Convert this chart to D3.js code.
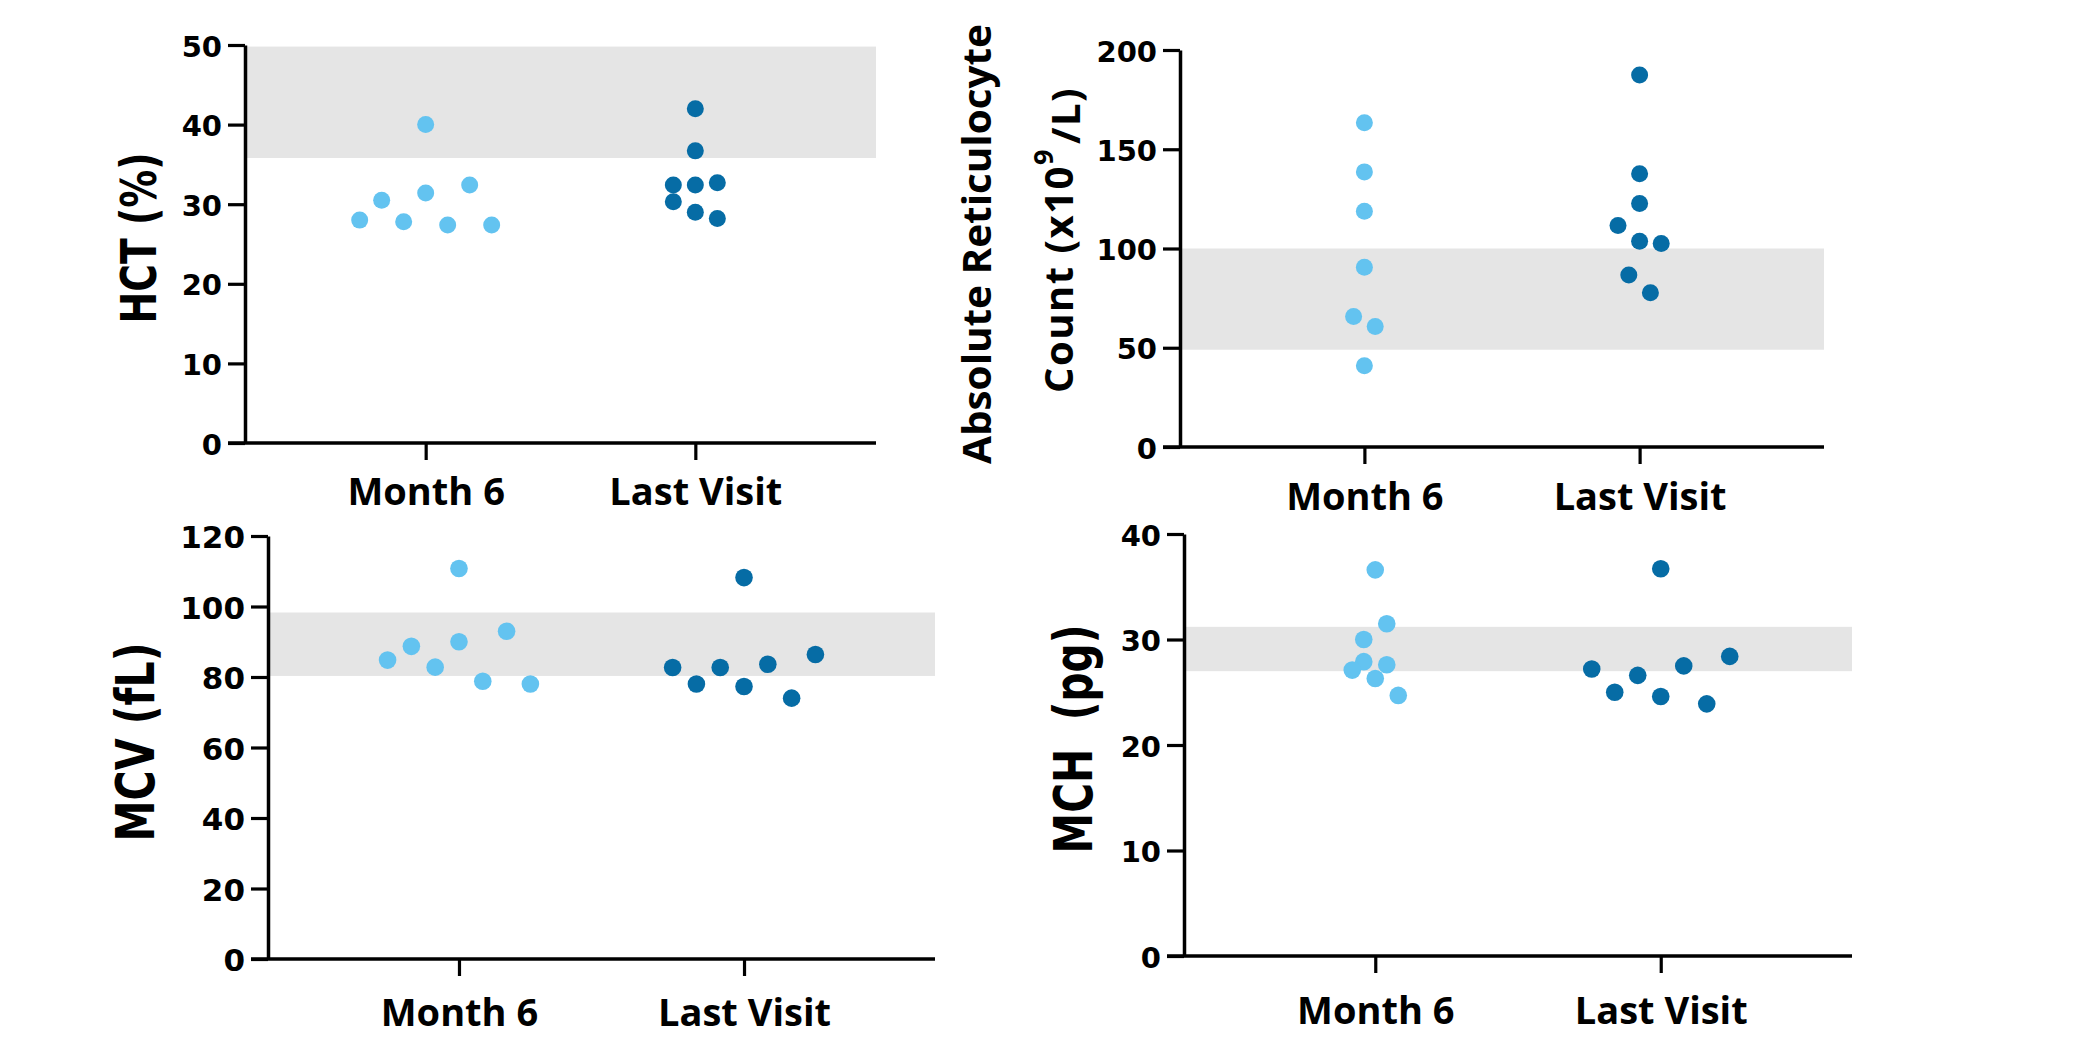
<!DOCTYPE html>
<html>
<head>
<meta charset="utf-8">
<script src="https://cdn.jsdelivr.net/npm/d3@7"></script>
<style>
  html, body { margin: 0; padding: 0; background: #ffffff; }
  svg { display: block; }
  text { white-space: pre; }
</style>
</head>
<body>
<div id="chart"></div>
<script>
// ---------------- DATA ----------------
const categories = ["Month 6", "Last Visit"];

// HCT (%)
const hctMonth6 = [40.0, 30.5, 31.4, 32.4, 28.0, 27.8, 27.4, 27.4];
const hctMonth6Slot = [0, -2, 0, 2, -3, -1, 1, 3];
const hctLast = [42.0, 36.7, 32.4, 32.4, 32.7, 30.3, 29.0, 28.2];
const hctLastSlot = [0, 0, -1, 0, 1, -1, 0, 1];
const hctTicks = [0, 10, 20, 30, 40, 50];
const hctRange = [35.8, 49.8];

// Absolute reticulocyte count (x10^9/L)
const retMonth6 = [163.4, 138.6, 118.8, 90.6, 65.8, 60.7, 40.9];
const retMonth6Slot = [0, 0, 0, 0, -0.5, 0.5, 0];
const retLast = [187.4, 137.6, 122.7, 111.6, 103.7, 102.5, 86.7, 77.7];
const retLastSlot = [0, 0, 0, -1, 0, 1, -0.5, 0.5];
const retTicks = [0, 50, 100, 150, 200];
const retRange = [49, 100];

// MCV (fL)
const mcvMonth6 = [110.8, 93.0, 90.0, 88.7, 84.8, 82.8, 78.8, 78.0];
const mcvMonth6Slot = [0, 2, 0, -2, -3, -1, 1, 3];
const mcvLast = [108.2, 86.4, 83.6, 82.7, 82.7, 78.0, 77.3, 74.0];
const mcvLastSlot = [0, 3, 1, -3, -1, -2, 0, 2];
const mcvTicks = [0, 20, 40, 60, 80, 100, 120];
const mcvRange = [80.3, 98.3];

// MCH (pg)
const mchMonth6 = [36.6, 31.5, 30.0, 27.9, 27.6, 27.1, 26.3, 24.7];
const mchMonth6Slot = [0, 0.5, -0.5, -0.5, 0.5, -1, 0, 1];
const mchLast = [36.7, 28.4, 27.5, 27.2, 26.6, 25.0, 24.6, 23.9];
const mchLastSlot = [0, 3, 1, -3, -1, -2, 0, 2];
const mchTicks = [0, 10, 20, 30, 40];
const mchRange = [27.0, 31.2];

// ---------------- LAYOUT / STYLE ----------------
const W = 2078, H = 1046;
const colLight = "#63c3f0";
const colDark = "#066ca5";
const bandColor = "#e5e5e5";
const catFont = "'Open Sans', sans-serif";
const titleFont = "'DejaVu Sans', Verdana, sans-serif";

const panels = [
  { month6: hctMonth6, m6slot: hctMonth6Slot, last: hctLast, lslot: hctLastSlot,
    ticks: hctTicks, band: hctRange,
    x0: 245, x1: 876, yTop: 45, yBot: 443, slot: 22, r: 8.5, tickFont: 29, catBase: 505,
    title: { lines: ["HCT (%)"], font: titleFont, size: 50, cx: 139, cy: 238, len: 171 } },
  { month6: retMonth6, m6slot: retMonth6Slot, last: retLast, lslot: retLastSlot,
    ticks: retTicks, band: retRange,
    x0: 1180, x1: 1824, yTop: 50, yBot: 447, slot: 21.6, r: 8.5, tickFont: 29, catBase: 510,
    title: { retic: true } },
  { month6: mcvMonth6, m6slot: mcvMonth6Slot, last: mcvLast, lslot: mcvLastSlot,
    ticks: mcvTicks, band: mcvRange,
    x0: 268, x1: 935, yTop: 536, yBot: 959, slot: 23.8, r: 8.8, tickFont: 31, catBase: 1026,
    title: { lines: ["MCV (fL)"], font: titleFont, size: 53, cx: 135, cy: 742, len: 199 } },
  { month6: mchMonth6, m6slot: mchMonth6Slot, last: mchLast, lslot: mchLastSlot,
    ticks: mchTicks, band: mchRange,
    x0: 1184, x1: 1852, yTop: 534, yBot: 956, slot: 23, r: 8.8, tickFont: 29, catBase: 1024,
    title: { lines: ["MCH  (pg)"], font: titleFont, size: 53, cx: 1073, cy: 739, len: 229 } }
];

const svg = d3.select("#chart").append("svg")
  .attr("width", W).attr("height", H)
  .attr("viewBox", `0 0 ${W} ${H}`);

panels.forEach(p => {
  const g = svg.append("g");
  const tmax = p.ticks[p.ticks.length - 1];
  const y = d3.scaleLinear().domain([0, tmax]).range([p.yBot, p.yTop]);
  const x = d3.scalePoint().domain(categories).range([p.x0, p.x1]).padding(0.67);

  // reference band
  g.append("rect")
    .attr("x", p.x0).attr("width", p.x1 - p.x0)
    .attr("y", y(p.band[1])).attr("height", y(p.band[0]) - y(p.band[1]))
    .attr("fill", bandColor);

  // y axis
  const ya = g.append("g")
    .attr("transform", `translate(${p.x0},0)`)
    .call(d3.axisLeft(y).tickValues(p.ticks).tickSize(17).tickSizeOuter(0).tickPadding(6));
  ya.select(".domain").attr("stroke", "#000").attr("stroke-width", 3.5);
  ya.selectAll(".tick line").attr("stroke", "#000").attr("stroke-width", 3.2);
  ya.selectAll(".tick text")
    .attr("fill", "#000")
    .style("font-family", titleFont)
    .style("font-weight", "bold")
    .style("font-size", p.tickFont + "px")
    .attr("dy", "0.38em");

  // x axis
  const xa = g.append("g")
    .attr("transform", `translate(0,${p.yBot})`)
    .call(d3.axisBottom(x).tickSize(17).tickSizeOuter(0));
  xa.select(".domain").attr("stroke", "#000").attr("stroke-width", 3.5)
    .attr("d", `M${p.x0 - 17},0H${p.x1}`);
  xa.selectAll(".tick line").attr("stroke", "#000").attr("stroke-width", 3.2);
  xa.selectAll(".tick text")
    .attr("fill", "#000")
    .attr("y", p.catBase - p.yBot)
    .attr("dy", 0)
    .style("font-family", catFont)
    .style("font-weight", "bold")
    .style("font-size", "38px");

  // points
  const pts = [];
  p.month6.forEach((v, i) => pts.push({ cat: categories[0], v, s: p.m6slot[i], c: colLight }));
  p.last.forEach((v, i) => pts.push({ cat: categories[1], v, s: p.lslot[i], c: colDark }));
  g.append("g").selectAll("circle").data(pts).join("circle")
    .attr("cx", d => x(d.cat) + d.s * p.slot)
    .attr("cy", d => y(d.v))
    .attr("r", p.r)
    .attr("fill", d => d.c);

  // titles
  if (p.title.retic) {
    svg.append("text")
      .attr("transform", "translate(975,244) rotate(-90)")
      .attr("text-anchor", "middle")
      .attr("dominant-baseline", "central")
      .attr("textLength", 440)
      .attr("lengthAdjust", "spacingAndGlyphs")
      .style("font-family", catFont).style("font-weight", "bold").style("font-size", "40px")
      .attr("fill", "#000")
      .text("Absolute Reticulocyte");
    const t2 = svg.append("text")
      .attr("transform", "translate(1057,240) rotate(-90)")
      .attr("text-anchor", "middle")
      .attr("dominant-baseline", "central")
      .style("font-family", catFont).style("font-weight", "bold").style("font-size", "40px")
      .attr("letter-spacing", "1.5px")
      .attr("fill", "#000");
    t2.append("tspan").text("Count (x10");
    t2.append("tspan").attr("dy", "-0.55em").style("font-size", "27px").text("9");
    t2.append("tspan").attr("dy", "0.55em").attr("dx", "4").text("/L)");
  } else {
    svg.append("text")
      .attr("transform", `translate(${p.title.cx},${p.title.cy}) rotate(-90)`)
      .attr("text-anchor", "middle")
      .attr("dominant-baseline", "central")
      .attr("textLength", p.title.len)
      .attr("lengthAdjust", "spacingAndGlyphs")
      .style("font-family", p.title.font).style("font-weight", "bold")
      .style("font-size", p.title.size + "px")
      .attr("fill", "#000")
      .text(p.title.lines[0]);
  }
});
</script>
</body>
</html>
